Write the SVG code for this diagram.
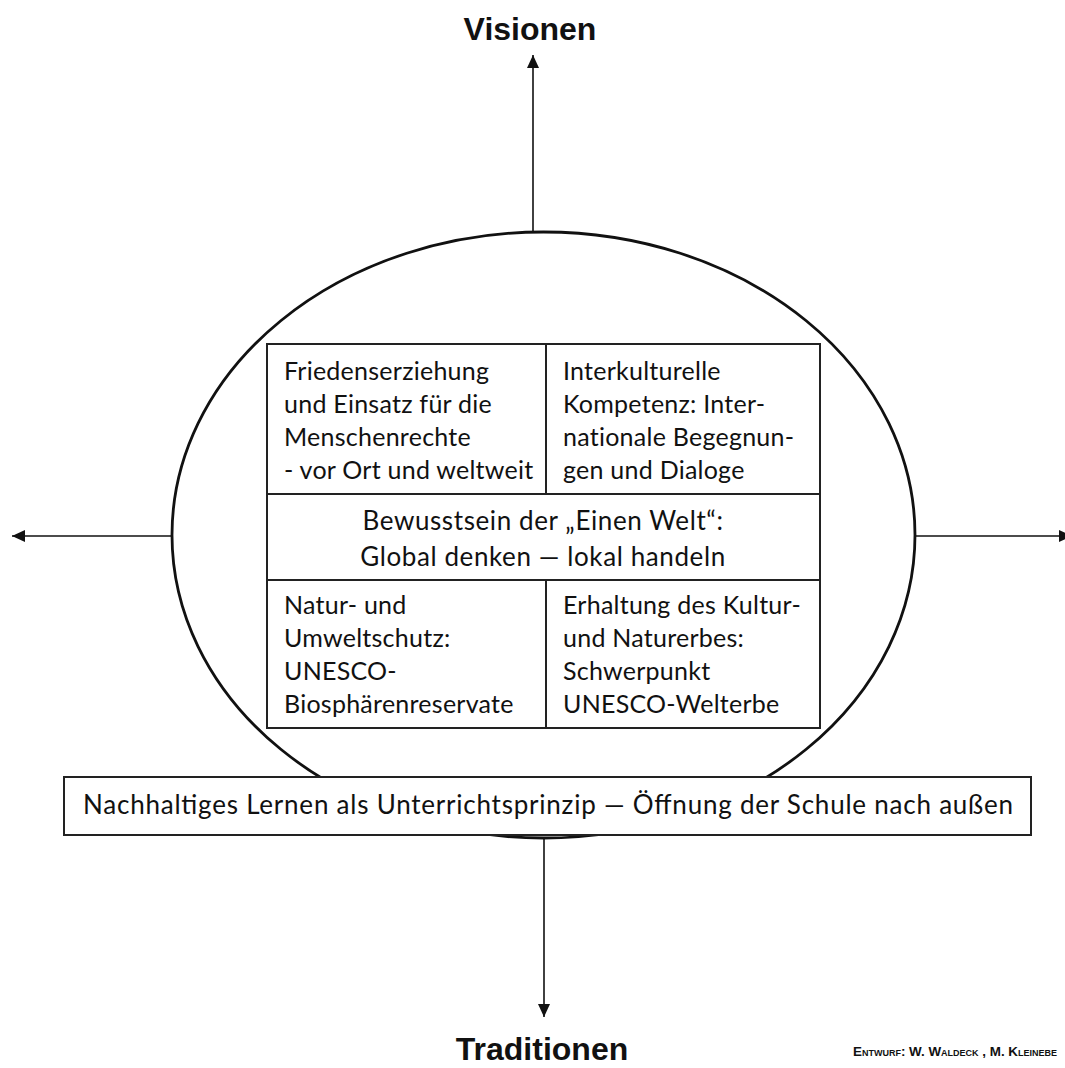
<svg xmlns="http://www.w3.org/2000/svg" width="1065" height="1068" viewBox="0 0 1065 1068">
  <style>
    .t { font-family: Lato, "Open Sans", "DejaVu Sans", sans-serif; font-size: 25px; letter-spacing: 0.25px; fill: #111; }
    .m { font-size: 26px; letter-spacing: 0.6px; text-anchor: middle; }
    .title { font-family: "Liberation Sans", Arial, sans-serif; font-weight: bold; font-size: 32px; fill: #111; text-anchor: middle; }
    .credit { font-family: "Liberation Sans", Arial, sans-serif; font-weight: bold; font-size: 13.4px; font-variant: small-caps; fill: #111; }
    .ln { stroke: #222; stroke-width: 2; fill: none; }
    .ar { stroke: #111; stroke-width: 1.6; fill: none; }
  </style>
  <defs>
    <marker id="ah" markerUnits="userSpaceOnUse" markerWidth="14" markerHeight="12" refX="13" refY="6" orient="auto">
      <path d="M0,0 L13,6 L0,12 Z" fill="#111"/>
    </marker>
  </defs>
  <rect width="1065" height="1068" fill="#fff"/>

  <g id="connectors">
    <line class="ar" x1="533" y1="233" x2="533" y2="55" marker-end="url(#ah)"/>
    <line class="ar" x1="172" y1="536" x2="12" y2="536" marker-end="url(#ah)"/>
    <line class="ar" x1="915" y1="536" x2="1072" y2="536" marker-end="url(#ah)"/>
    <line class="ar" x1="544" y1="835" x2="544" y2="1017" marker-end="url(#ah)"/>
  </g>

  <g id="ellipse">
    <ellipse cx="543.5" cy="535" rx="371.5" ry="303" fill="#fff" stroke="#111" stroke-width="2.8"/>
  </g>

  <g id="title-visionen">
    <text class="title" x="530" y="40">Visionen</text>
  </g>
  <g id="title-traditionen">
    <text class="title" x="542" y="1060">Traditionen</text>
  </g>

  <g id="grid">
    <rect class="ln" x="267" y="344" width="553" height="384" fill="#fff"/>
    <line class="ln" x1="546" y1="344" x2="546" y2="494"/>
    <line class="ln" x1="267" y1="494" x2="820" y2="494"/>
    <line class="ln" x1="267" y1="580" x2="820" y2="580"/>
    <line class="ln" x1="546" y1="580" x2="546" y2="728"/>
  </g>

  <g id="cell-tl">
    <text class="t" x="284" y="380">Friedenserziehung</text>
    <text class="t" x="284" y="413">und Einsatz für die</text>
    <text class="t" x="284" y="446">Menschenrechte</text>
    <text class="t" x="284" y="479">- vor Ort und weltweit</text>
  </g>
  <g id="cell-tr">
    <text class="t" x="563" y="380">Interkulturelle</text>
    <text class="t" x="563" y="413">Kompetenz: Inter-</text>
    <text class="t" x="563" y="446">nationale Begegnun-</text>
    <text class="t" x="563" y="479">gen und Dialoge</text>
  </g>
  <g id="cell-middle">
    <text class="t m" x="543" y="530">Bewusstsein der „Einen Welt“:</text>
    <text class="t m" x="543" y="566">Global denken — lokal handeln</text>
  </g>
  <g id="cell-bl">
    <text class="t" x="284" y="614">Natur- und</text>
    <text class="t" x="284" y="647">Umweltschutz:</text>
    <text class="t" x="284" y="680">UNESCO-</text>
    <text class="t" x="284" y="713">Biosphärenreservate</text>
  </g>
  <g id="cell-br">
    <text class="t" x="563" y="614">Erhaltung des Kultur-</text>
    <text class="t" x="563" y="647">und Naturerbes:</text>
    <text class="t" x="563" y="680">Schwerpunkt</text>
    <text class="t" x="563" y="713">UNESCO-Welterbe</text>
  </g>

  <g id="banner">
    <rect x="64" y="777" width="967" height="58" fill="#fff" stroke="#222" stroke-width="2"/>
    <text class="t" x="83" y="814" style="font-size:26px;letter-spacing:0" textLength="930" lengthAdjust="spacing">Nachhaltiges Lernen als Unterrichtsprinzip — Öffnung der Schule nach außen</text>
  </g>

  <g id="credit">
    <text class="credit" x="853" y="1056">Entwurf: W. Waldeck , M. Kleinebe</text>
  </g>
</svg>
